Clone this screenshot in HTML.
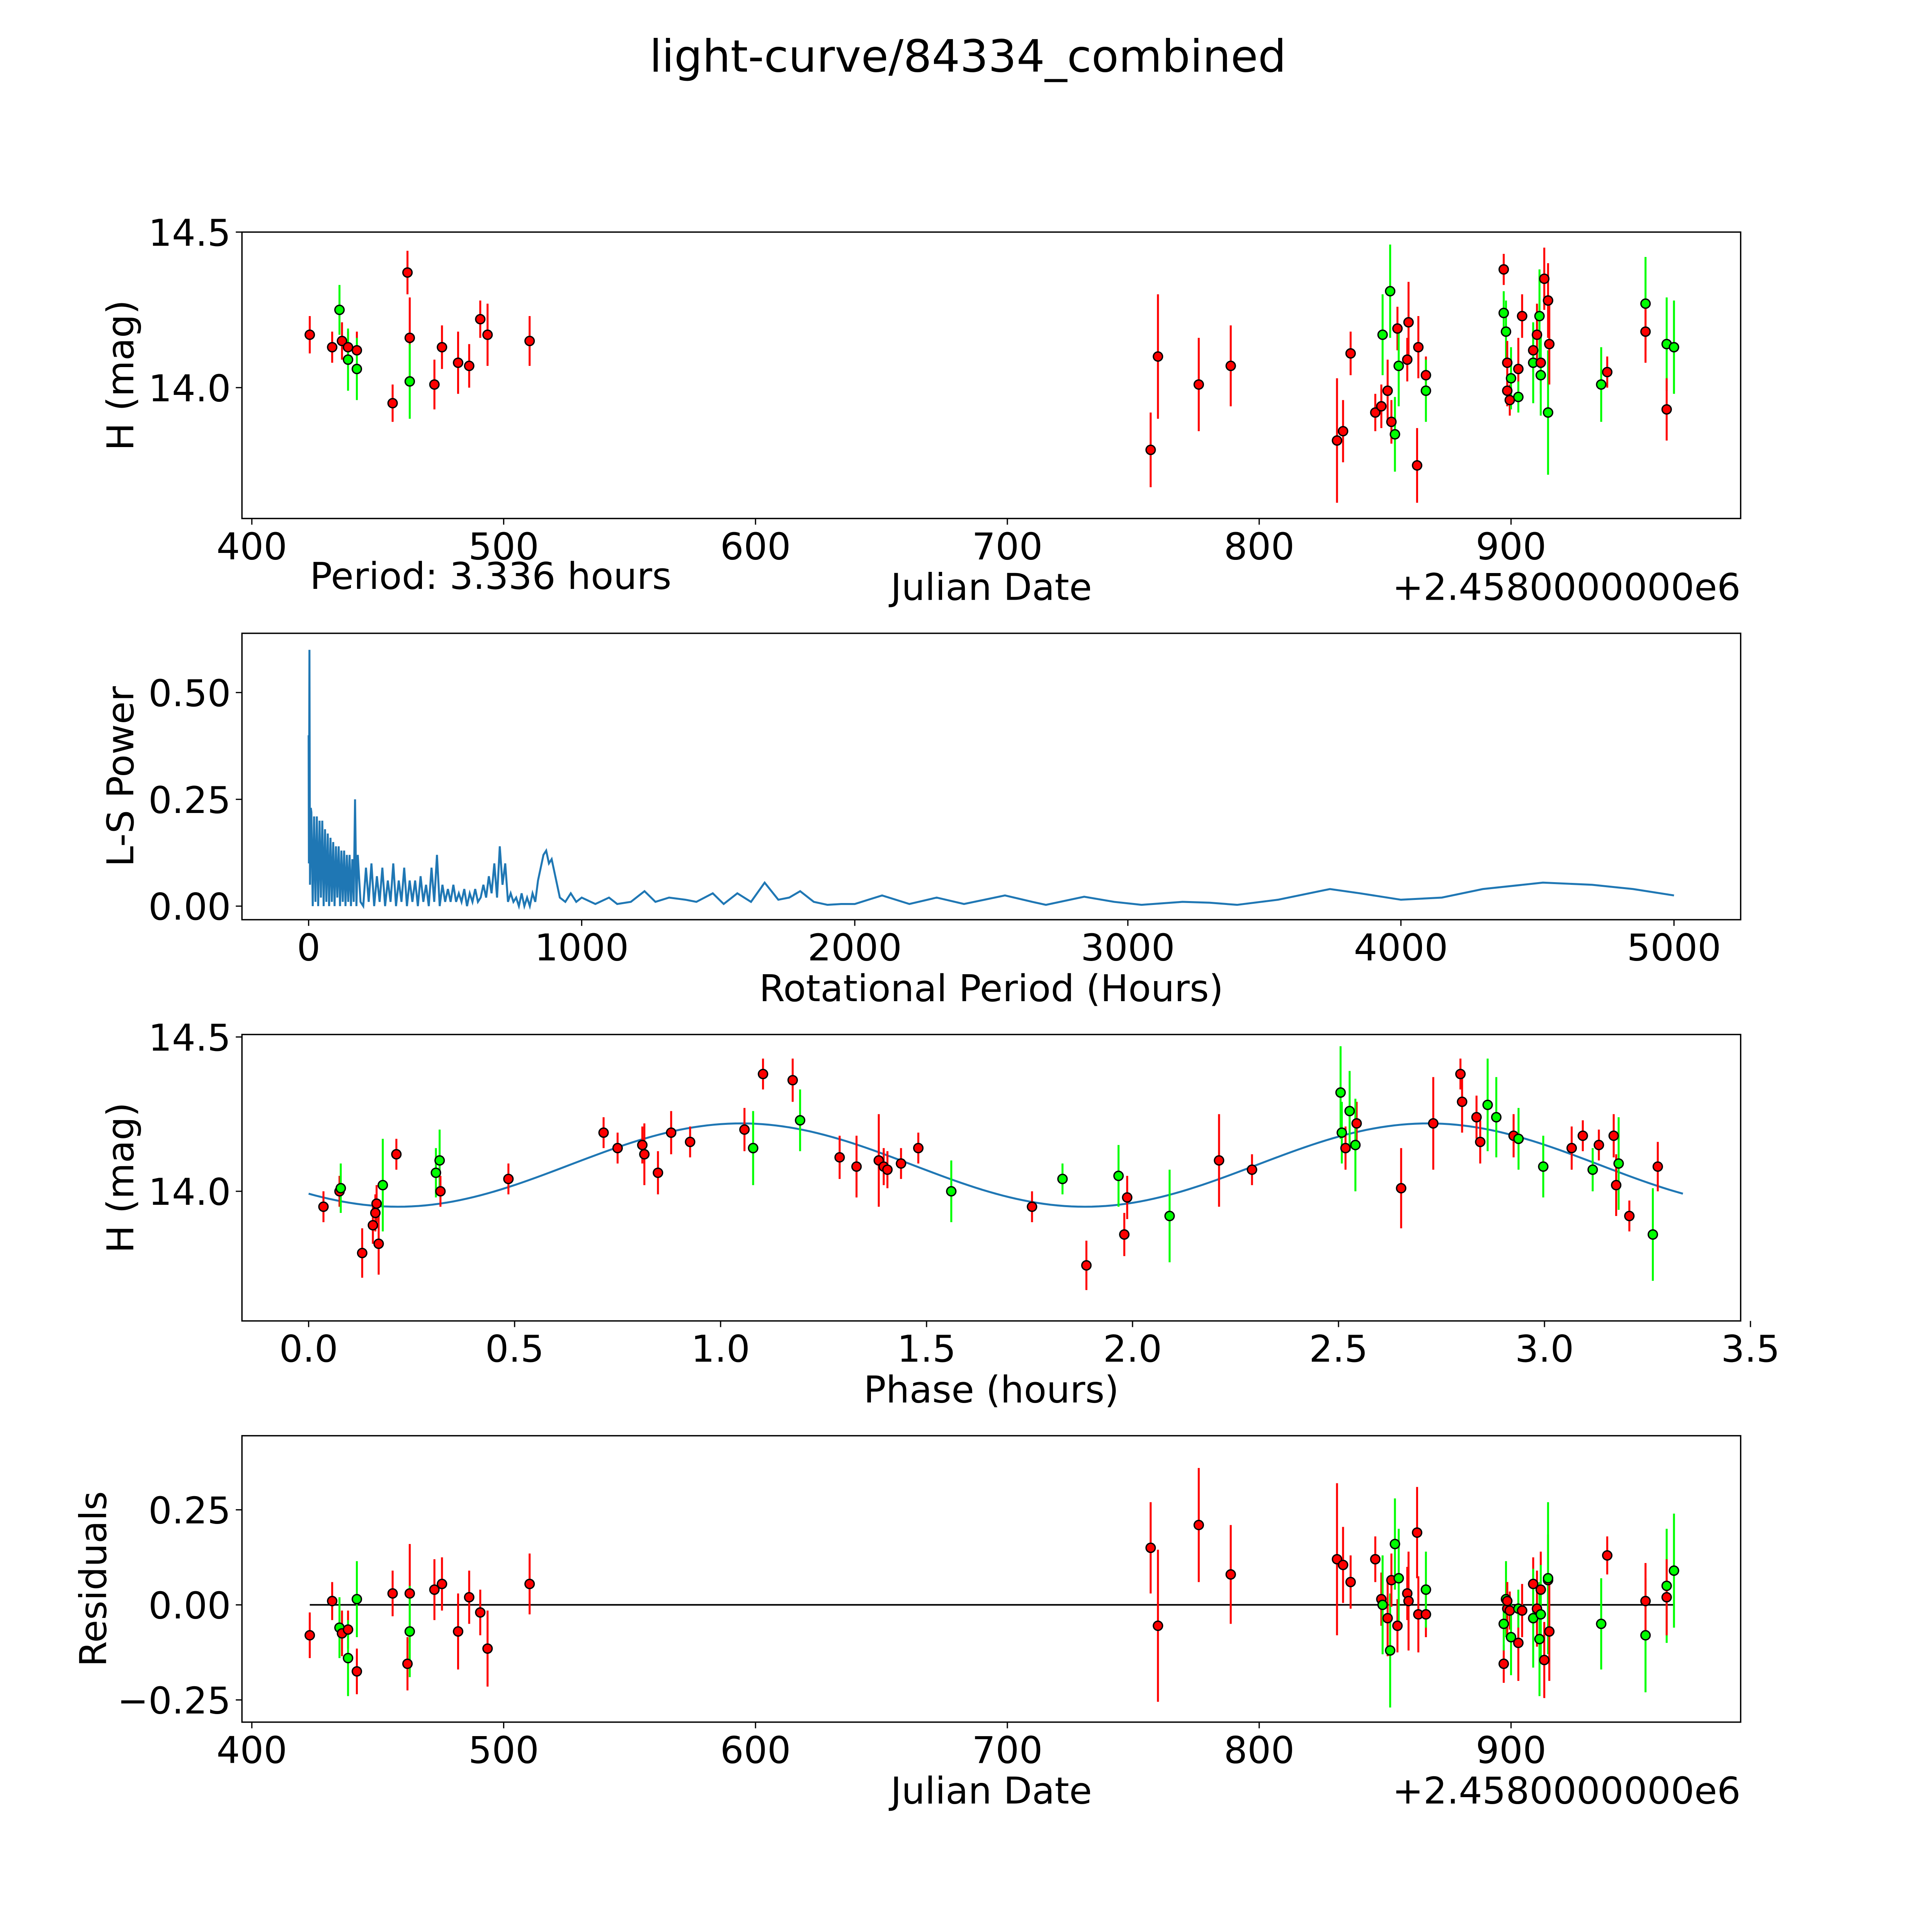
<!DOCTYPE html>
<html><head><meta charset="utf-8"><style>
html,body{margin:0;padding:0;background:#fff;overflow:hidden;width:100vw;height:100vh}
svg{display:block;width:100vw;height:100vh}
text{font-family:"DejaVu Sans","Liberation Sans",sans-serif;fill:#000}
</style></head><body>
<svg id="fig" xmlns="http://www.w3.org/2000/svg" viewBox="0 0 1565 1565" preserveAspectRatio="none">
<rect width="1565" height="1565" fill="#fff"/>
<text x="784" y="58" font-size="36" text-anchor="middle">light-curve/84334_combined</text>
<g id="g1"></g>
<g id="g2"></g>
<g id="g3"></g>
<g id="g4"></g>
</svg>
<script>
// Panel 1: [date offset, H mag, error, color]
const lcDates=[423.0,431.9,434.8,435.8,438.2,438.2,441.7,441.7,455.9,461.8,462.7,462.7,472.5,475.5,481.9,486.3,490.7,493.6,510.3,756.9,759.8,776.0,788.7,830.9,833.3,836.3,846.1,848.5,849,851,852,852.5,853.9,854.9,855.4,858.8,859.3,862.7,863.2,866.2,866.2,897.1,897.1,898,898.5,898.5,899.5,900,902.9,902.9,904.4,908.8,908.8,910.3,911.3,911.8,911.8,913.2,914.7,914.7,915.2,935.8,938.2,953.4,953.4,961.8,961.8,964.7];
const lcMags=[14.17,14.13,14.25,14.15,14.13,14.09,14.12,14.06,13.95,14.37,14.16,14.02,14.01,14.13,14.08,14.07,14.22,14.17,14.15,13.80,14.10,14.01,14.07,13.83,13.86,14.11,13.92,13.94,14.17,13.99,14.31,13.89,13.85,14.19,14.07,14.09,14.21,13.75,14.13,14.04,13.99,14.38,14.24,14.18,14.08,13.99,13.96,14.03,14.06,13.97,14.23,14.12,14.08,14.17,14.23,14.08,14.04,14.35,14.28,13.92,14.14,14.01,14.05,14.27,14.18,14.14,13.93,14.13];
const lcErrs=[0.06,0.05,0.08,0.06,0.05,0.1,0.06,0.1,0.06,0.07,0.13,0.12,0.08,0.07,0.1,0.07,0.06,0.1,0.08,0.12,0.2,0.15,0.13,0.2,0.1,0.07,0.06,0.07,0.13,0.1,0.15,0.07,0.12,0.07,0.13,0.07,0.13,0.12,0.1,0.06,0.1,0.05,0.07,0.1,0.07,0.05,0.05,0.1,0.1,0.05,0.07,0.07,0.13,0.1,0.15,0.1,0.13,0.1,0.12,0.2,0.13,0.12,0.05,0.15,0.1,0.15,0.1,0.15];
const lcColors="rrgrrgrgrrrgrrrrrrrrrrrrrrrrgrgrgrgrrrrrgrggrrrgrgrrgrgrgrrgrgrgrgrg".split("");

// Panel 2: periodogram
const lsPeriods=[0,1,3,5,8,10,15,20,25,30,35,40,45,50,55,60,65,70,75,80,85,90,95,100,105,110,115,120,125,130,135,140,145,150,155,160,165,170,175,180,190,200,210,220,230,240,250,260,270,280,290,300,310,320,330,340,350,360,370,380,390,400,410,420,430,440,450,460,470,480,490,500,510,520,530,540,550,560,570,580,590,600,610,620,630,640,650,660,670,680,690,700,710,720,730,740,750,760,770,780,790,800,810,820,830,840,850,860,870,880,890,900,910,920,940,960,980,1000,1050,1100,1130,1180,1230,1270,1320,1380,1420,1480,1520,1570,1620,1670,1720,1760,1800,1850,1900,1950,2000,2050,2100,2150,2200,2300,2400,2550,2650,2700,2840,2950,3050,3200,3300,3400,3550,3740,3850,4000,4150,4300,4520,4700,4850,5000];
const lsPowers=[0.4,0.1,0.6,0.05,0.23,0.22,0.0,0.21,0.01,0.21,0.0,0.2,0.02,0.2,0.0,0.18,0.01,0.17,0.0,0.16,0.01,0.15,0.0,0.14,0.02,0.14,0.0,0.13,0.01,0.13,0.0,0.12,0.01,0.12,0.0,0.11,0.01,0.25,0.0,0.12,0.01,0.0,0.09,0.01,0.1,0.0,0.07,0.01,0.09,0.0,0.06,0.01,0.1,0.0,0.06,0.01,0.09,0.0,0.06,0.01,0.06,0.0,0.07,0.01,0.05,0.0,0.09,0.01,0.12,0.0,0.05,0.01,0.04,0.01,0.05,0.01,0.03,0.01,0.04,0.0,0.03,0.01,0.04,0.01,0.02,0.05,0.02,0.07,0.03,0.1,0.02,0.14,0.05,0.1,0.01,0.03,0.01,0.02,0.0,0.03,0.0,0.02,0.0,0.03,0.01,0.06,0.09,0.12,0.13,0.1,0.11,0.08,0.05,0.02,0.01,0.03,0.01,0.02,0.005,0.02,0.005,0.01,0.035,0.01,0.02,0.015,0.01,0.03,0.005,0.03,0.01,0.055,0.015,0.02,0.035,0.01,0.003,0.005,0.005,0.015,0.025,0.015,0.005,0.02,0.005,0.025,0.01,0.003,0.022,0.01,0.003,0.01,0.008,0.003,0.015,0.04,0.03,0.015,0.02,0.04,0.055,0.05,0.04,0.025];

// Panel 3: phased data
const phPhase=[0.036,0.075,0.078,0.13,0.156,0.162,0.165,0.17,0.18,0.213,0.309,0.318,0.32,0.485,0.716,0.75,0.81,0.815,0.848,0.88,0.926,1.058,1.079,1.103,1.175,1.193,1.289,1.33,1.384,1.396,1.405,1.438,1.48,1.56,1.756,1.83,1.888,1.966,1.98,1.987,2.09,2.21,2.29,2.505,2.508,2.517,2.527,2.544,2.541,2.652,2.73,2.796,2.8,2.835,2.844,2.862,2.883,2.925,2.937,2.997,3.066,3.093,3.117,3.132,3.168,3.174,3.18,3.206,3.263,3.275];
const phMags=[13.95,14.0,14.01,13.80,13.89,13.93,13.96,13.83,14.02,14.12,14.06,14.1,14.0,14.04,14.19,14.14,14.15,14.12,14.06,14.19,14.16,14.2,14.14,14.38,14.36,14.23,14.11,14.08,14.1,14.08,14.07,14.09,14.14,14.0,13.95,14.04,13.76,14.05,13.86,13.98,13.92,14.1,14.07,14.32,14.19,14.14,14.26,14.22,14.15,14.01,14.22,14.38,14.29,14.24,14.16,14.28,14.24,14.18,14.17,14.08,14.14,14.18,14.07,14.15,14.18,14.02,14.09,13.92,13.86,14.08];
const phErrs=[0.05,0.05,0.08,0.08,0.06,0.06,0.06,0.1,0.15,0.05,0.08,0.1,0.05,0.05,0.05,0.05,0.06,0.1,0.07,0.07,0.05,0.07,0.12,0.05,0.07,0.1,0.07,0.1,0.15,0.06,0.06,0.05,0.05,0.1,0.05,0.05,0.08,0.1,0.07,0.07,0.15,0.15,0.05,0.15,0.1,0.07,0.13,0.07,0.15,0.13,0.15,0.05,0.1,0.07,0.07,0.15,0.13,0.07,0.1,0.1,0.07,0.05,0.07,0.05,0.07,0.1,0.15,0.05,0.15,0.08];
const phColors="rrgrrrrrgrggrrrrrrrrrrgrrgrrrrrrrgrgrgrrgrrggrgrgrrrrrrggrggrrgrrrgrgr".split("");
const fitMean=14.085, fitAmp=0.135, fitPhase=-2.384, fitPeriod=3.336;

// Panel 4: residuals
const rsDates=lcDates;
const rsVals=[-0.08,0.01,-0.06,-0.075,-0.065,-0.14,-0.175,0.015,0.03,-0.155,0.03,-0.07,0.04,0.055,-0.07,0.02,-0.02,-0.115,0.055,0.15,-0.055,0.21,0.08,0.12,0.105,0.06,0.12,0.015,0.0,-0.035,-0.12,0.065,0.16,-0.055,0.07,0.03,0.01,0.19,-0.025,-0.025,0.04,-0.155,-0.05,0.015,-0.01,0.01,-0.015,-0.085,-0.1,-0.01,-0.015,0.055,-0.035,-0.01,-0.09,0.04,-0.025,-0.145,0.065,0.07,-0.07,-0.05,0.13,-0.08,0.01,0.05,0.02,0.09];
const rsErrs=lcErrs;
const rsColors=lcColors;

const NS="http://www.w3.org/2000/svg";
function mk(parent,tag,attrs){const e=document.createElementNS(NS,tag);for(const k in attrs)e.setAttribute(k,attrs[k]);parent.appendChild(e);return e;}
const L=196,R=1410,H=232,FS=30;
function frame(g,top){
  const f=mk(g,'rect',{x:L,y:top,width:R-L,height:H,fill:'none',stroke:'#000','stroke-width':1.1});
  
  
}
function xticks(g,top,vals,fx,labels){
  vals.forEach((v,i)=>{const x=fx(v);
    const t=mk(g,'line',{x1:x,x2:x,y1:top+H,y2:top+H+5,stroke:'#000','stroke-width':1});
    
    
    const tx=mk(g,'text',{x:x,y:top+H+33,'font-size':FS,'text-anchor':'middle'});tx.textContent=labels[i];
    
    });
}
function yticks(g,vals,fy,labels){
  vals.forEach((v,i)=>{const y=fy(v);
    const t=mk(g,'line',{x1:L-5,x2:L,y1:y,y2:y,stroke:'#000','stroke-width':1});
    
    
    const tx=mk(g,'text',{x:L-9,y:y+11,'font-size':FS,'text-anchor':'end'});tx.textContent=labels[i];
    
    });
}
function label(g,x,y,txt,rot,name,anchor){
  const t=mk(g,'text',{x:x,y:y,'font-size':FS,'text-anchor':anchor||'middle'});t.textContent=txt;
  if(rot)t.setAttribute('transform','rotate(-90 '+x+' '+y+')');
  
  
}
function points(g,xs,ys,es,cs,fx,fy){
  xs.forEach((xv,i)=>{const col=cs[i]==='g'?'#00ff00':'#ff0000';const x=fx(xv);
    const b=mk(g,'line',{x1:x,x2:x,y1:fy(ys[i]-es[i]),y2:fy(ys[i]+es[i]),stroke:col,'stroke-width':1.6});
    
    });
  xs.forEach((xv,i)=>{const col=cs[i]==='g'?'#00ff00':'#ff0000';
    const c=mk(g,'circle',{cx:fx(xv),cy:fy(ys[i]),r:3.7,fill:col,stroke:'#000','stroke-width':1.1});
    
    });
}
// Panel 1
(function(){const g=document.getElementById('g1');const top=188;
  const fx=d=>204+(d-400)*2.04, fy=m=>314-(m-14.0)*252;
  frame(g,top);
  xticks(g,top,[400,500,600,700,800,900],fx,['400','500','600','700','800','900']);
  yticks(g,[14.0,14.5],fy,['14.0','14.5']);
  points(g,lcDates,lcMags,lcErrs,lcColors,fx,fy);
  label(g,108,top+H/2,'H (mag)',true,'y-axis-title');
  label(g,803,486,'Julian Date',false,'x-axis-title');
  label(g,1410,486,'+2.4580000000e6',false,'x-offset-text','end');
  label(g,251,477,'Period: 3.336 hours',false,'period-annotation','start');
})();
// Panel 2
(function(){const g=document.getElementById('g2');const top=513;
  const fx=p=>250+p*0.2212, fy=v=>734-v*346;
  frame(g,top);
  xticks(g,top,[0,1000,2000,3000,4000,5000],fx,['0','1000','2000','3000','4000','5000']);
  yticks(g,[0,0.25,0.5],fy,['0.00','0.25','0.50']);
  const pts=lsPeriods.map((p,i)=>fx(p).toFixed(2)+','+fy(lsPowers[i]).toFixed(2)).join(' ');
  const pl=mk(g,'polyline',{points:pts,fill:'none',stroke:'#1f77b4','stroke-width':1.6});
  
  
  label(g,108,top+H/2,'L-S Power',true,'y-axis-title');
  label(g,803,811,'Rotational Period (Hours)',false,'x-axis-title');
})();
// Panel 3
(function(){const g=document.getElementById('g3');const top=838;
  const fx=p=>250+p*333.7, fy=m=>965-(m-14.0)*250;
  frame(g,top);
  xticks(g,top,[0,0.5,1,1.5,2,2.5,3,3.5],fx,['0.0','0.5','1.0','1.5','2.0','2.5','3.0','3.5']);
  yticks(g,[14.0,14.5],fy,['14.0','14.5']);
  const n=200;let pts=[];
  for(let i=0;i<=n;i++){const p=fitPeriod*i/n;const m=fitMean+fitAmp*Math.sin(4*Math.PI*p/fitPeriod+fitPhase);pts.push(fx(p).toFixed(2)+','+fy(m).toFixed(2));}
  const pl=mk(g,'polyline',{points:pts.join(' '),fill:'none',stroke:'#1f77b4','stroke-width':1.6});
  
  
  points(g,phPhase,phMags,phErrs,phColors,fx,fy);
  label(g,108,top+H/2,'H (mag)',true,'y-axis-title');
  label(g,803,1136,'Phase (hours)',false,'x-axis-title');
})();
// Panel 4
(function(){const g=document.getElementById('g4');const top=1163;
  const fx=d=>204+(d-400)*2.04, fy=v=>1300-v*308;
  frame(g,top);
  xticks(g,top,[400,500,600,700,800,900],fx,['400','500','600','700','800','900']);
  yticks(g,[-0.25,0,0.25],fy,['\u22120.25','0.00','0.25']);
  const zl=mk(g,'line',{x1:fx(423),x2:fx(964.7),y1:fy(0),y2:fy(0),stroke:'#000','stroke-width':1.3});
  
  
  points(g,rsDates,rsVals,rsErrs,rsColors,fx,fy);
  label(g,86,top+H/2,'Residuals',true,'y-axis-title');
  label(g,803,1461,'Julian Date',false,'x-axis-title');
  label(g,1410,1461,'+2.4580000000e6',false,'x-offset-text','end');
})();
</script>
</body></html>
